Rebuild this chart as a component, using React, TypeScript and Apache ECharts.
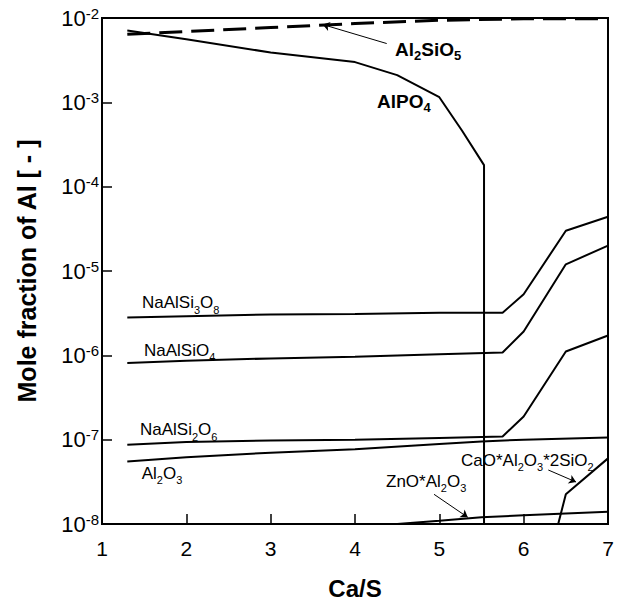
import React, { useEffect, useRef } from 'react';
import * as echarts from 'echarts';

// ---- data (x = Ca/S, y = mole fraction of Al) ----
const xMin = 1;
const xMax = 7;
const yMin = 1e-8;
const yMax = 1e-2;

const al2sio5: number[][] = [[1.3, 0.0064], [2, 0.0069], [3, 0.0077], [4, 0.0086], [5, 0.0094], [6, 0.0098], [7, 0.0098]];
const alpo4: number[][] = [[1.3, 0.0071], [2, 0.0056], [3, 0.0039], [4, 0.0030], [4.5, 0.0021], [5, 0.00115], [5.27, 0.00046], [5.53, 0.00018], [5.53, 1e-9]];
const naAlSi3O8: number[][] = [[1.3, 2.8e-6], [2, 2.9e-6], [3, 3.05e-6], [4, 3.1e-6], [5, 3.2e-6], [5.75, 3.2e-6], [6, 5.3e-6], [6.5, 3.0e-5], [7, 4.4e-5]];
const naAlSiO4: number[][] = [[1.3, 8.1e-7], [2, 8.6e-7], [3, 9.2e-7], [4, 9.6e-7], [5, 1.03e-6], [5.75, 1.08e-6], [6, 1.92e-6], [6.5, 1.2e-5], [7, 2.0e-5]];
const naAlSi2O6: number[][] = [[1.3, 8.7e-8], [2, 9.4e-8], [3, 9.8e-8], [4, 1.0e-7], [5, 1.05e-7], [5.75, 1.09e-7], [6, 1.88e-7], [6.5, 1.11e-6], [7, 1.72e-6]];
const al2o3: number[][] = [[1.3, 5.5e-8], [2, 6.2e-8], [3, 7.0e-8], [4, 7.7e-8], [5, 8.9e-8], [5.5, 9.5e-8], [6, 1.0e-7], [7, 1.06e-7]];
const znoAl2o3: number[][] = [[4.5, 1.0e-8], [5, 1.09e-8], [5.5, 1.2e-8], [6, 1.27e-8], [7, 1.4e-8]];
const caoAl2o3Sio2: number[][] = [[6.4, 9.2e-9], [6.5, 2.25e-8], [7, 6.0e-8]];

// annotation arrows [from, to] in data coordinates
const arrowAl2SiO5 = [[4.376, 0.00498], [3.617, 0.00837]];
const arrowZnO = [[4.937, 2.25e-8], [5.337, 1.2e-8]];
const arrowCaO = [[6.292, 4.37e-8], [6.621, 3.15e-8]];

const FONT = '"Liberation Sans", Arial, Helvetica, sans-serif';

const richNormal = {
  n: { fontSize: 17, lineHeight: 21, verticalAlign: 'top', fontFamily: FONT, color: '#000' },
  s: { fontSize: 11, lineHeight: 21, verticalAlign: 'bottom', fontFamily: FONT, color: '#000' },
};
const richBold = {
  n: { fontSize: 19, lineHeight: 22, verticalAlign: 'top', fontFamily: FONT, fontWeight: 'bold', color: '#000' },
  s: { fontSize: 13, lineHeight: 22, verticalAlign: 'bottom', fontFamily: FONT, fontWeight: 'bold', color: '#000' },
};

function label(text: string, x: number, y: number, bold = false) {
  return {
    type: 'text',
    x,
    y,
    silent: true,
    style: { text, rich: bold ? richBold : richNormal, align: 'left', verticalAlign: 'top' },
  };
}

function arrowLine(pair: number[][]) {
  return {
    silent: true,
    symbol: ['none', 'arrow'],
    symbolSize: 7,
    label: { show: false },
    lineStyle: { color: '#000', width: 1, type: 'solid' },
    data: [[{ coord: pair[0] }, { coord: pair[1] }]],
  };
}

function solid(name: string, data: number[][], extra: any = {}) {
  return {
    name,
    type: 'line',
    data,
    showSymbol: false,
    symbol: 'none',
    clip: true,
    lineStyle: { color: '#000', width: 2 },
    ...extra,
  };
}

export default function App() {
  const ref = useRef<HTMLDivElement>(null);
  useEffect(() => {
    if (!ref.current) return;
    const chart = echarts.init(ref.current, undefined, { renderer: 'svg' });
    chart.setOption({
      animation: false,
      grid: {
        left: 102, right: 11, top: 18, bottom: 77,
        containLabel: false, outerBoundsMode: 'none',
        show: true, borderColor: '#000', borderWidth: 2, backgroundColor: 'transparent',
      },
      xAxis: {
        type: 'value',
        min: xMin,
        max: xMax,
        interval: 1,
        name: 'Ca/S',
        nameLocation: 'middle',
        nameGap: 55,
        nameTextStyle: { fontSize: 24, lineHeight: 18, fontWeight: 'bold', color: '#000', fontFamily: FONT },
        axisLine: { show: true, onZero: false, lineStyle: { color: '#000', width: 2 } },
        axisTick: { show: true, inside: true, length: 10, lineStyle: { color: '#000', width: 1.5 } },
        axisLabel: { fontSize: 21, color: '#000', margin: 14, fontFamily: FONT },
        splitLine: { show: false },
      },
      yAxis: {
        type: 'log',
        logBase: 10,
        min: yMin,
        max: yMax,
        splitNumber: 6,
        name: 'Mole fraction of Al [ - ]',
        nameLocation: 'middle',
        nameGap: 63,
        nameTextStyle: { fontSize: 25, fontWeight: 'bold', color: '#000', fontFamily: FONT },
        axisLine: { show: true, lineStyle: { color: '#000', width: 2 } },
        axisTick: { show: true, inside: true, length: 10, lineStyle: { color: '#000', width: 1.5 } },
        axisLabel: {
          margin: 3,
          formatter: (v: number) => `{b|10}{s|${Math.round(Math.log10(v))}}`,
          rich: {
            b: { fontSize: 22, lineHeight: 25, verticalAlign: 'middle', fontFamily: FONT, color: '#000' },
            s: { fontSize: 15, lineHeight: 15, verticalAlign: 'top', fontFamily: FONT, color: '#000' },
          },
        },
        splitLine: { show: false },
      },
      series: [
        solid('Al2SiO5', al2sio5, { lineStyle: { color: '#000', width: 3, type: [23, 9] }, markLine: arrowLine(arrowAl2SiO5) }),
        solid('AlPO4', alpo4),
        solid('NaAlSi3O8', naAlSi3O8),
        solid('NaAlSiO4', naAlSiO4),
        solid('NaAlSi2O6', naAlSi2O6),
        solid('Al2O3', al2o3),
        solid('ZnO*Al2O3', znoAl2o3, { markLine: arrowLine(arrowZnO) }),
        solid('CaO*Al2O3*2SiO2', caoAl2o3Sio2, { markLine: arrowLine(arrowCaO) }),
      ],
      graphic: [
        label('{n|Al}{s|2}{n|SiO}{s|5}', 395, 39.5, true),
        label('{n|AlPO}{s|4}', 377, 91.5, true),
        label('{n|NaAlSi}{s|3}{n|O}{s|8}', 142, 294),
        label('{n|NaAlSiO}{s|4}', 144, 341.5),
        label('{n|NaAlSi}{s|2}{n|O}{s|6}', 140, 421),
        label('{n|Al}{s|2}{n|O}{s|3}', 141.7, 464.5),
        label('{n|ZnO*Al}{s|2}{n|O}{s|3}', 386, 472.5),
        label('{n|CaO*Al}{s|2}{n|O}{s|3}{n|*2SiO}{s|2}', 461, 451.5),
      ],
    });
    return () => chart.dispose();
  }, []);
  return <div ref={ref} style={{ position: 'absolute', left: 0, top: 0, width: 619, height: 601, background: '#fff' }} />;
}
